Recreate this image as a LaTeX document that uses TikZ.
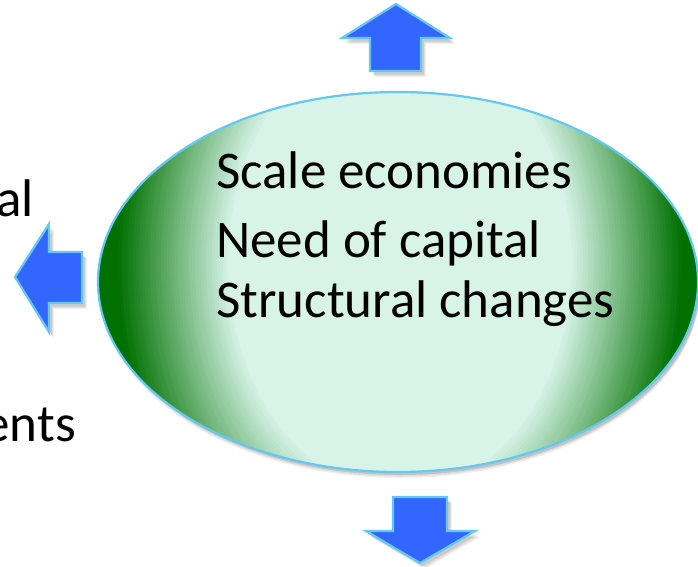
\documentclass[tikz,border=0pt]{standalone}
\usepackage{fontspec}
\setmainfont{Carlito}
\definecolor{dkg}{RGB}{0,112,0}
\definecolor{mint}{RGB}{216,244,233}
\definecolor{edgeblue}{RGB}{100,200,240}
\definecolor{arrblue}{RGB}{51,102,255}
\tikzset{
  bigarrow/.style={fill=arrblue, draw=edgeblue, line width=2.2pt, line join=miter},
  txt/.style={inner sep=0pt, font=\fontsize{53}{63}\selectfont, text=black}
}
\begin{document}
\begin{tikzpicture}[x=1pt,y=-1pt]
\useasboundingbox (0,0) rectangle (698,566);
% ellipse shadow
\foreach \d/\o in {6/0.06,4.5/0.08,3/0.12}{
  \fill[black, opacity=\o] (400,282+\d) ellipse [x radius=300, y radius=190];
}
% ellipse body
\begin{scope}
  \clip (398,282) ellipse [x radius=300, y radius=190];
  \fill[dkg] (90,80) rectangle (710,480);
  \foreach \i [evaluate=\i as \f using 0.91-\i*0.36/40, evaluate=\i as \p using int(\i*100/40)] in {0,...,40}{
    \fill[mint!\p!dkg] (400,262) ellipse [x radius=312*\f, y radius=420*\f];
  }
\end{scope}
\draw[edgeblue, line width=2.2pt] (398,282) ellipse [x radius=300, y radius=190];
% arrow shadows
\foreach \dx/\dy/\o in {5/6/0.05,4/5/0.07,3/3.5/0.1}{
  \begin{scope}[shift={(\dx,\dy)}]
    \fill[black, opacity=\o] (396,4) -- (450,38) -- (421,38) -- (421,71) -- (370,71) -- (370,38) -- (342,38) -- cycle;
    \fill[black, opacity=\o] (393,497) -- (447,497) -- (447,531) -- (475,531) -- (420,563) -- (366,531) -- (393,531) -- cycle;
    \fill[black, opacity=\o] (15,277) -- (49,224) -- (49,252) -- (82,252) -- (82,303) -- (49,303) -- (49,332) -- cycle;
  \end{scope}
}
% arrows
\draw[bigarrow] (396,4) -- (450,38) -- (421,38) -- (421,71) -- (370,71) -- (370,38) -- (342,38) -- cycle;
\draw[bigarrow] (393,497) -- (447,497) -- (447,531) -- (475,531) -- (420,563) -- (366,531) -- (393,531) -- cycle;
\draw[bigarrow] (15,277) -- (49,224) -- (49,252) -- (82,252) -- (82,303) -- (49,303) -- (49,332) -- cycle;
% texts
\node[txt, anchor=base west] (t1) at (216,188) {Scale economies};
\node[txt, anchor=base west] (t2) at (216,257) {Need of capital};
\node[txt, anchor=base west] (t3) at (216,317) {Structural changes};
\node[txt, anchor=base east] (l1) at (34,216) {al};
\node[txt, anchor=base east] (l2) at (76,441) {ents};
\end{tikzpicture}
\end{document}
